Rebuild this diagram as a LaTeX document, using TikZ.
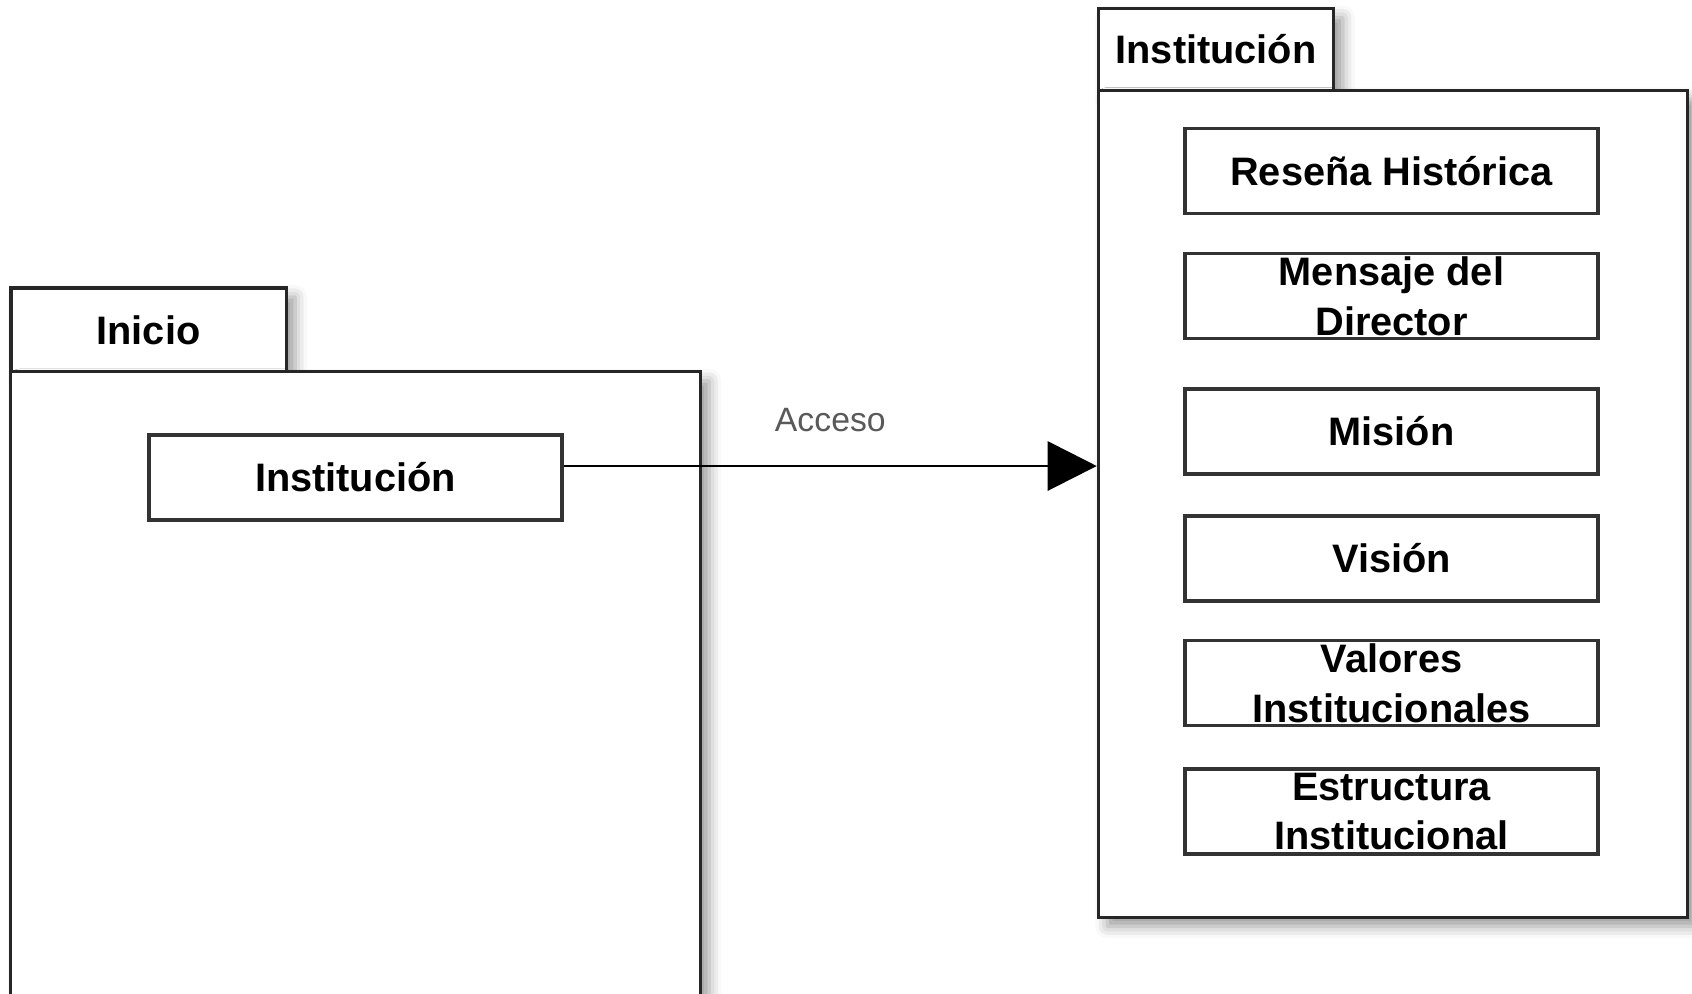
\documentclass[tikz,border=0pt]{standalone}
\usepackage{fontspec}
\setmainfont{Liberation Sans}
\usetikzlibrary{arrows.meta,shadows.blur}
\begin{document}
\begin{tikzpicture}
    [x=0.01cm, y=-0.01cm,
    sombra/.style={blur shadow={shadow xshift=0.09cm, shadow yshift=-0.09cm, shadow blur radius=0.12cm, shadow opacity=40}},
    pestana/.style={rectangle, draw=black!85, fill=white, line width=0.9pt, inner sep=0pt, sombra, font=\fontsize{11.3}{14}\selectfont\bfseries},
    paquete/.style={rectangle, draw=black!85, fill=white, line width=0.9pt, inner sep=0pt, sombra},
    caja/.style={rectangle, draw=black!80, fill=white, line width=1pt, minimum width=4.13cm, minimum height=0.85cm, inner sep=0pt, font=\fontsize{11.3}{14.2}\selectfont\bfseries},
    texto/.style={align=center, inner sep=0pt, font=\fontsize{11.3}{14.2}\selectfont\bfseries}]
    \useasboundingbox (0,0) rectangle (1692,993);
    \clip (0,0) rectangle (1692,993);
    % paquete Inicio
    \node[pestana, minimum width=2.75cm, minimum height=0.84cm] (tabInicio) at (148.5,330){Inicio};
    \node[paquete, minimum width=6.89cm, minimum height=6.58cm] (inicio) at (355.5,701){};
    \node[caja] (inst) at (355.5,477.5){Institución};
    % paquete Institucion
    \node[pestana, minimum width=2.355cm, minimum height=0.82cm] (tabInst) at (1216,49.6){Institución};
    \node[paquete, minimum width=5.885cm, minimum height=8.264cm] (institucion) at (1392.75,503.8){};
    \node[caja] (resena) at (1391.5,171){Reseña Histórica};
    \node[caja, label={[texto]center:Mensaje del\\Director}] (mensaje) at (1391.5,296){};
    \node[caja] (mision) at (1391.5,431.5){Misión};
    \node[caja] (vision) at (1391.5,558.5){Visión};
    \node[caja, label={[texto]center:Valores\\Institucionales}] (valores) at (1391.5,683){};
    \node[caja, label={[texto]center:Estructura\\Institucional}] (estructura) at (1391.5,811.5){};
    \coordinate (nivel) at (0,466);
    \draw[line width=0.8pt, -{Triangle[length=14pt,width=14pt]}] (inst.east |- nivel) to node[midway, above=0.33cm, inner sep=0pt, text=black!65, font=\fontsize{9.6}{11}\selectfont]{Acceso} (institucion.west |- nivel);
    \end{tikzpicture}
\end{document}
